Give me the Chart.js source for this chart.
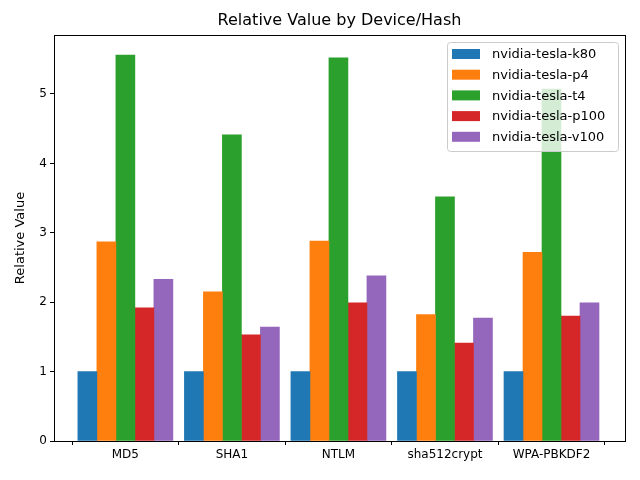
<!DOCTYPE html>
<html><head><script src="https://cdn.jsdelivr.net/npm/chart.js@4"></script>
<style>body{margin:0}#w{width:640px;height:480px}</style></head>
<body><div id="w"><canvas id="c"></canvas></div>
<script>
const categories=["MD5","SHA1","NTLM","sha512crypt","WPA-PBKDF2"];
const devices=["nvidia-tesla-k80","nvidia-tesla-p4","nvidia-tesla-t4","nvidia-tesla-p100","nvidia-tesla-v100"];
const k80=[1,1,1,1,1];
const p4=[2.87,2.15,2.88,1.82,2.72];
const t4=[5.56,4.41,5.52,3.52,5.07];
const p100=[1.92,1.53,1.99,1.41,1.80];
const v100=[2.33,1.64,2.38,1.77,1.99];
const yTicks=[0,1,2,3,4,5];
const colors=["#1f77b4","#ff7f0e","#2ca02c","#d62728","#9467bd"];
const series=[k80,p4,t4,p100,v100];
const F="'DejaVu Sans'";
const extra={id:'extra',afterDraw(ch){const c=ch.ctx,a=ch.chartArea;c.save();
c.strokeStyle='#000';c.lineWidth=1;c.strokeRect(a.left+0.5,a.top+0.5,a.right-a.left,a.bottom-a.top);
c.fillStyle='#000';c.font='16px '+F;c.textAlign='center';c.textBaseline='middle';c.fillText('Relative Value by Device/Hash',(a.left+a.right)/2,21);
c.font='13px '+F;c.translate(21,(a.top+a.bottom)/2);c.rotate(-Math.PI/2);c.fillText('Relative Value',0,0);c.setTransform(1,0,0,1,0,0);c.scale(ch.currentDevicePixelRatio,ch.currentDevicePixelRatio);
c.fillStyle='rgba(255,255,255,0.8)';c.strokeStyle='#ccc';c.beginPath();c.roundRect(447.5,42.5,171,109,3);c.fill();c.stroke();
c.textAlign='left';devices.forEach((d,i)=>{const y=54+i*20.7;c.fillStyle=colors[i];c.fillRect(452,y-5,28,10);c.fillStyle='#000';c.fillText(d,492,y+1);});
c.restore();}};
new Chart(document.getElementById('c'),{type:'bar',
data:{datasets:devices.map((d,i)=>({label:d,data:series[i].map((v,j)=>({x:j,y:v})),backgroundColor:colors[i],barThickness:19,categoryPercentage:1,barPercentage:1}))},
options:{responsive:true,maintainAspectRatio:false,animation:false,devicePixelRatio:1,
layout:{padding:{top:35,right:15,left:0,bottom:0}},
plugins:{legend:{display:false},title:{display:false},tooltip:{enabled:false}},
scales:{x:{type:'linear',min:-0.67,max:4.69,offset:false,afterBuildTicks(s){s.ticks=categories.map((c,i)=>({value:i}));},afterFit(s){s.height=39;},
ticks:{callback:(v)=>categories[v]??'',color:'#000',font:{family:F,size:12},maxRotation:0,autoSkip:false},grid:{display:true,drawOnChartArea:false,tickLength:4,color:'#000'},border:{color:'#000'}},
y:{min:0,max:5.85,afterBuildTicks(s){s.ticks=yTicks.map(v=>({value:v}));},afterFit(s){s.width=54;},
ticks:{color:'#000',font:{family:F,size:12}},grid:{display:true,drawOnChartArea:false,tickLength:4,color:'#000'},border:{color:'#000'}}}},
plugins:[extra]});
</script></body></html>
